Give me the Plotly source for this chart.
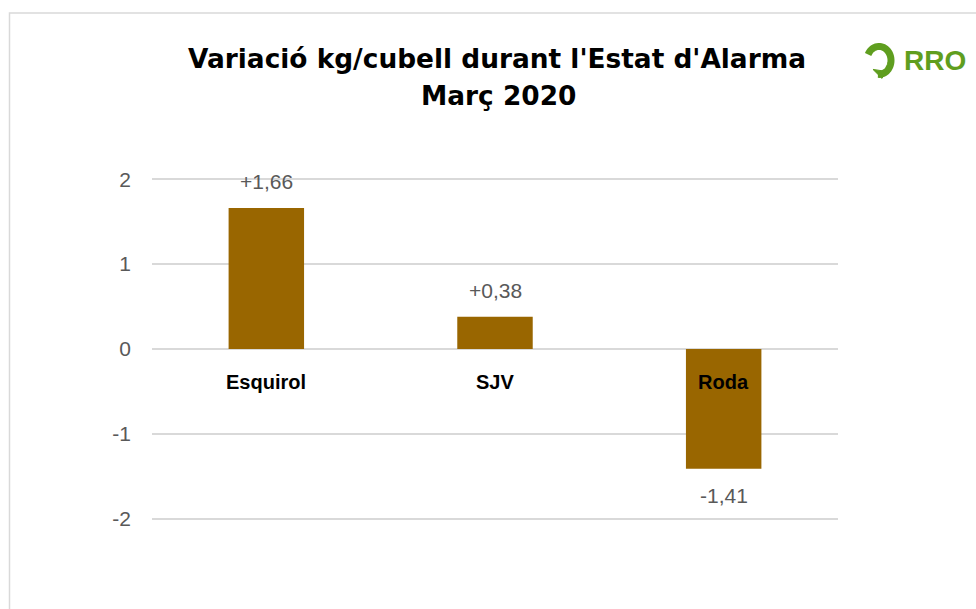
import math
import plotly.graph_objects as go

categories = ["Esquirol", "SJV", "Roda"]
values = [1.66, 0.38, -1.41]
tick_vals = [-2, -1, 0, 1, 2]
tick_text = ["-2", "-1", "0", "1", "2"]
title_lines = ["Variació kg/cubell durant l'Estat d'Alarma", "Març 2020"]

W, H = 976, 609
L, R = 152, 838
Y_TOP, Y_BOT = 179, 519          # pixel rows of +2 and -2
PAD = 0.05                        # extra axis range so edge gridlines show
UNIT = (Y_BOT - Y_TOP) / 4.0
T = Y_TOP - PAD * UNIT
B = Y_BOT + PAD * UNIT
BAR = "#996600"
GREY = "#595959"
GREEN = "#5f9e1f"

def px(x):
    return (x - L) / (R - L)

def py(y):
    return (B - y) / (B - T)

labels = [("+" if v > 0 else "") + f"{v:.2f}".replace(".", ",") for v in values]

fig = go.Figure(go.Bar(
    x=categories, y=values, width=0.33,
    marker=dict(color=BAR, line=dict(width=0)),
    hoverinfo="skip",
))

annotations = []
for c, v, t in zip(categories, values, labels):
    annotations.append(dict(
        x=c, y=v, text=t, showarrow=False,
        yanchor="bottom" if v >= 0 else "top",
        yshift=13 if v >= 0 else -13,
        font=dict(family="Liberation Sans", size=21, color=GREY),
    ))
    annotations.append(dict(
        x=c, y=0, text=f"<b>{c}</b>", showarrow=False,
        yanchor="top", yshift=-20,
        font=dict(family="Liberation Sans", size=20, color="#000000"),
    ))

annotations.append(dict(
    xref="paper", yref="paper", x=px(497), y=py(58),
    text=f"<b>{title_lines[0]}</b>", showarrow=False,
    xanchor="center", yanchor="middle",
    font=dict(family="DejaVu Sans", size=26.4, color="#000000"),
))
annotations.append(dict(
    xref="paper", yref="paper", x=px(498), y=py(95),
    text=f"<b>{title_lines[1]}</b>", showarrow=False,
    xanchor="center", yanchor="middle",
    font=dict(family="DejaVu Sans", size=26.4, color="#000000"),
))
annotations.append(dict(
    xref="paper", yref="paper", x=px(935), y=py(60),
    text="<b>RRO</b>", showarrow=False,
    xanchor="center", yanchor="middle",
    font=dict(family="Liberation Sans", size=28, color=GREEN),
))

# logo swirl
cx, cy, rx, ry = 879, 60, 12, 14
pts = []
for i in range(0, 41):
    a = math.radians(155 - i * (250 / 40))
    pts.append((cx + rx * math.cos(a), cy - ry * math.sin(a)))
path = "M " + " L ".join(f"{px(x):.5f},{py(y):.5f}" for x, y in pts)
tail = (f"M {px(873):.5f},{py(69):.5f} L {px(886):.5f},{py(71):.5f} "
        f"L {px(882):.5f},{py(78):.5f} Z")

shapes = [
    dict(type="rect", xref="paper", yref="paper",
         x0=px(9.5), y0=py(640), x1=px(1000), y1=py(12.5),
         line=dict(color="#d9d9d9", width=1.5), fillcolor="rgba(0,0,0,0)", layer="below"),
    dict(type="path", xref="paper", yref="paper", path=path,
         line=dict(color=GREEN, width=7)),
    dict(type="path", xref="paper", yref="paper", path=tail,
         line=dict(color=GREEN, width=1), fillcolor=GREEN),
]

fig.update_layout(
    width=W, height=H,
    margin=dict(l=L, r=W - R, t=T, b=H - B, pad=0),
    paper_bgcolor="white", plot_bgcolor="white",
    showlegend=False,
    annotations=annotations,
    shapes=shapes,
    xaxis=dict(range=[-0.5, 2.5], showticklabels=False, showgrid=False,
               zeroline=False, showline=False, ticks=""),
    yaxis=dict(range=[-2 - PAD, 2 + PAD], tickvals=tick_vals, ticktext=tick_text,
               showgrid=True, gridcolor="#d9d9d9", gridwidth=1.5,
               zeroline=True, zerolinecolor="#d9d9d9", zerolinewidth=1.5,
               showline=False, ticks="", ticklabelstandoff=20,
               tickfont=dict(family="Liberation Sans", size=21, color=GREY)),
)

fig.write_html("out.html",
               config={"displayModeBar": False},
               post_script="document.body.style.margin='0';document.body.style.overflow='hidden';")
